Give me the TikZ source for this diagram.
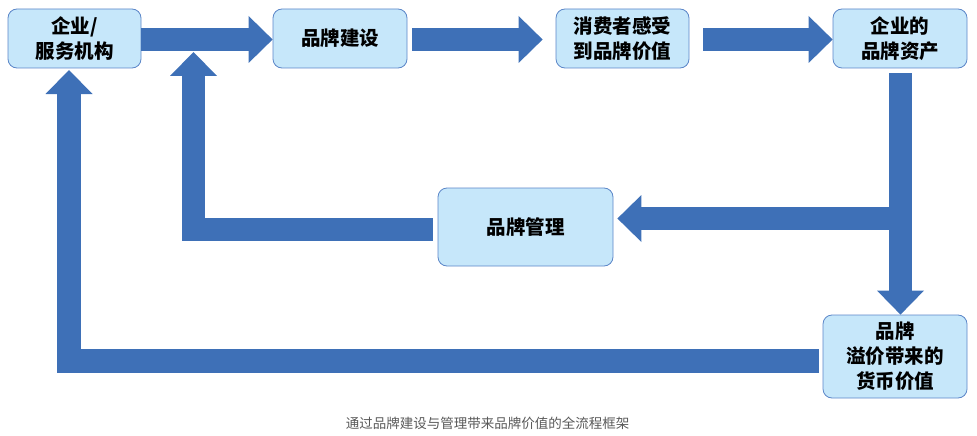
\documentclass[tikz,border=0pt]{standalone}
\usepackage{fontspec}
\newfontfamily\cjk{Noto Sans CJK SC}
\usepackage{tikz}
\usetikzlibrary{
  positioning,
  calc,
  arrows.meta
}
\definecolor{boxfill}{HTML}{C6E7FA}
\definecolor{boxline}{HTML}{5B86C8}
\definecolor{arrowblue}{HTML}{3E70B7}
\definecolor{captiongray}{HTML}{595959}

\begin{document}
\begin{tikzpicture}[x=1pt,y=-1pt,
    stage/.style={draw=boxline, line width=0.8pt, fill=boxfill, rounded corners=9pt,
      align=center, inner sep=0pt, font=\cjk\bfseries\fontsize{19.5}{25}\selectfont},
    bigarrow/.style={draw=arrowblue, line width=23.5pt, line join=miter,
      -{Triangle[length=24pt,width=47pt,line width=0pt]}}]
            \useasboundingbox (0,0) rectangle (977,436);

            \node[stage, minimum width=133pt, minimum height=59pt] (firm) at (74.5,38.5) {企业/\\服务机构};
            \node[stage, minimum width=134pt, minimum height=59pt] (build) at (340,38.5) {品牌建设};
            \node[stage, minimum width=133pt, minimum height=59pt] (feel) at (622.5,38.5) {消费者感受\\到品牌价值};
            \node[stage, minimum width=134pt, minimum height=59pt] (asset) at (900,38.5) {企业的\\品牌资产};
            \node[stage, minimum width=175pt, minimum height=78pt] (manage) at (525.5,227) {品牌管理};
            \node[stage, minimum width=144pt, minimum height=83pt] (premium) at (895,356.5) {品牌\\溢价带来的\\货币价值};

            \coordinate (buildin) at (193.5,52);
            \coordinate (firmin) at (69,70);
            \coordinate (managein) at ([xshift=4pt,yshift=8.5pt]manage.east);

            \draw[bigarrow] ([yshift=-1pt]firm.east) -- ([yshift=-1pt]build.west);
            \draw[bigarrow] ([xshift=5pt,yshift=-1pt]build.east) -- ([xshift=-13pt,yshift=-1pt]feel.west);
            \draw[bigarrow] ([xshift=14pt,yshift=-1pt]feel.east) -- ([yshift=-1pt]asset.west);

            \draw[bigarrow] ([xshift=0.5pt,yshift=-5pt]asset.south) -- ([xshift=5.5pt]premium.north);
            \draw[bigarrow] (asset.south |- managein) -- (managein);

            \draw[bigarrow] ([xshift=-5pt,yshift=-2.5pt]manage.west) -| (buildin);
            \draw[bigarrow] ([xshift=-4pt,yshift=-4.5pt]premium.west) -| (firmin);

            \node[font=\cjk\fontsize{13.5}{16}\selectfont, text=captiongray] (caption) at (487.5,423) {通过品牌建设与管理带来品牌价值的全流程框架};
        \end{tikzpicture}
\end{document}
